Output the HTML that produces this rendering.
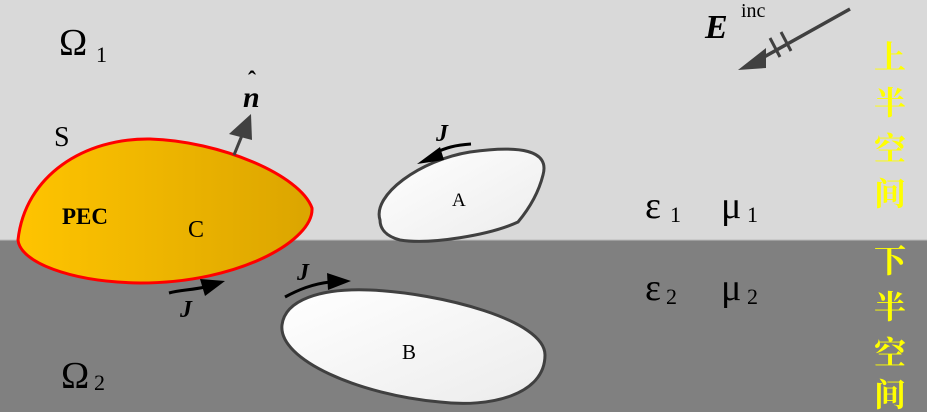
<!DOCTYPE html>
<html><head><meta charset="utf-8"><style>
html,body{margin:0;padding:0;}
body{width:927px;height:412px;overflow:hidden;}
</style></head><body>
<svg width="927" height="412" viewBox="0 0 927 412" xmlns="http://www.w3.org/2000/svg" font-family="Liberation Serif, serif">
<defs>
<linearGradient id="g" x1="0" x2="1" y1="0" y2="0"><stop offset="0" stop-color="#ffc400"/><stop offset="1" stop-color="#dba500"/></linearGradient>
<linearGradient id="w" x1="0" x2="1" y1="0" y2="1"><stop offset="0" stop-color="#ffffff"/><stop offset="1" stop-color="#ececec"/></linearGradient>
</defs>
<rect x="0" y="0" width="927" height="240" fill="#d9d9d9"/>
<rect x="0" y="240" width="927" height="172" fill="#808080"/>
<line x1="0" y1="240" x2="927" y2="240" stroke="#bbb" stroke-width="1"/>
<!-- PEC -->
<path d="M18,240 C25,175 85,138 150,139 C220,141 300,175 312,208 C314,240 240,283 140,283 C70,282 20,262 18,240 Z" fill="url(#g)" stroke="#ff0000" stroke-width="3"/>
<!-- A -->
<path d="M380,220 C372,195 420,160 470,152 C520,145 550,150 543,175 C538,195 528,210 518,222 C490,235 430,245 400,240 C385,236 380,228 380,220Z" fill="url(#w)" stroke="#404040" stroke-width="3"/>
<!-- B -->
<path d="M282,325 C285,300 320,288 370,290 C440,293 545,320 545,355 C545,395 490,408 440,402 C360,395 278,360 282,325 Z" fill="url(#w)" stroke="#404040" stroke-width="3"/>
<!-- normal -->
<line x1="234" y1="155" x2="245" y2="128" stroke="#404040" stroke-width="3"/>
<polygon points="251,114 229,134 252,140" fill="#404040"/>
<!-- E inc arrow -->
<line x1="850" y1="9" x2="755" y2="62" stroke="#404040" stroke-width="3.5"/>
<polygon points="738,70 766,48 766,68" fill="#404040"/>
<line x1="770" y1="38" x2="780" y2="57" stroke="#404040" stroke-width="3"/>
<line x1="781" y1="32" x2="791" y2="51" stroke="#404040" stroke-width="3"/>
<!-- J arrows -->
<path d="M169,293 C180,290 192,290 205,287" fill="none" stroke="#000" stroke-width="3"/>
<polygon points="225,281 200,279 205,296" fill="#000"/>
<path d="M285,297 C298,290 312,284 330,282" fill="none" stroke="#000" stroke-width="3"/>
<polygon points="351,281 327,273 328,290" fill="#000"/>
<path d="M471,144 C455,145 445,148 435,153" fill="none" stroke="#000" stroke-width="3"/>
<polygon points="417,164 440,147 444,160" fill="#000"/>
<!-- labels -->
<g font-size="38" fill="#000">
<text x="59" y="55">Ω</text><text x="96" y="62" font-size="22">1</text>
<text x="61" y="388">Ω</text><text x="94" y="390" font-size="22">2</text>
</g>
<text x="54" y="146" font-size="28">S</text>
<text x="62" y="224" font-size="23" font-weight="bold">PEC</text>
<text x="188" y="237" font-size="24">C</text>
<text x="452" y="206" font-size="19">A</text>
<text x="402" y="359" font-size="21">B</text>
<text x="243" y="107" font-size="30" font-weight="bold" font-style="italic">n</text>
<text x="248" y="88" font-size="24" font-weight="bold">ˆ</text>
<text x="705" y="38" font-size="34" font-weight="bold" font-style="italic">E</text>
<text x="741" y="17" font-size="20">inc</text>
<g font-style="italic" font-weight="bold" font-size="24">
<text x="180" y="317">J</text>
<text x="297" y="280">J</text>
<text x="436" y="141">J</text>
</g>
<g font-size="38">
<text x="645" y="218">ε</text><text x="670" y="222" font-size="22">1</text>
<text x="721" y="218">μ</text><text x="747" y="222" font-size="22">1</text>
<text x="645" y="300">ε</text><text x="666" y="304" font-size="22">2</text>
<text x="721" y="300">μ</text><text x="747" y="304" font-size="22">2</text>
</g>
<g font-family="Noto Serif CJK SC, serif" font-size="32" font-weight="bold" fill="#ffff00" text-anchor="middle">
<text x="890" y="68">上</text>
<text x="890" y="114">半</text>
<text x="890" y="160">空</text>
<text x="890" y="205">间</text>
<text x="890" y="272">下</text>
<text x="890" y="318">半</text>
<text x="890" y="364">空</text>
<text x="890" y="406">间</text>
</g>
</svg>
</body></html>
